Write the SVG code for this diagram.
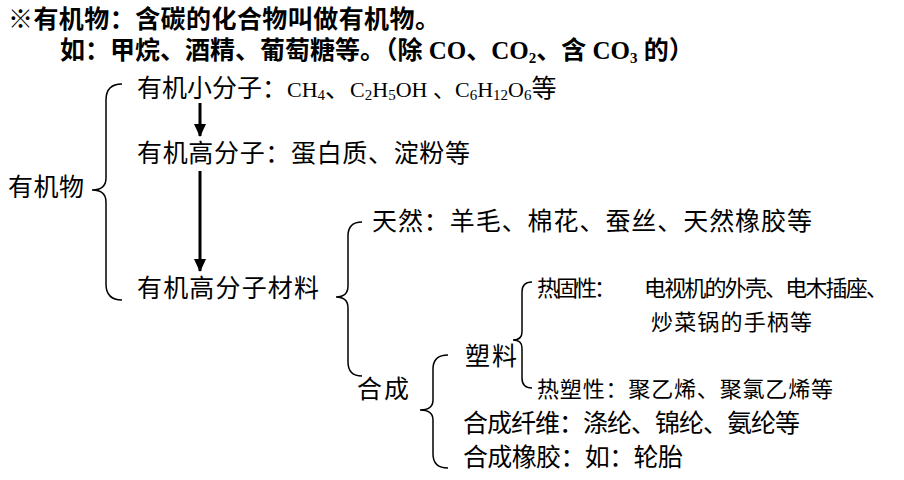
<svg xmlns="http://www.w3.org/2000/svg" width="904" height="480" viewBox="0 0 904 480">
<style>
text{font-family:"Liberation Serif","Noto Sans CJK SC",serif;fill:#000}
.b{font-weight:bold;font-size:25px}
.t{font-size:25px}
.s{font-size:22px}
.br{fill:none;stroke:#000;stroke-width:1.5}
</style>
<defs>
<marker id="a" markerWidth="14" markerHeight="14" refX="12" refY="7" orient="auto" markerUnits="userSpaceOnUse"><path d="M0,1 L13,7 L0,13 z" fill="#000"/></marker></defs>
<g id="title"><text class="b" x="8" y="28" textLength="432">※有机物：含碳的化合物叫做有机物。</text>
<text class="b" x="60" y="59">如：甲烷、酒精、葡萄糖等。（除 CO、CO<tspan font-size="15" dy="4">2</tspan><tspan dy="-4">、含 CO</tspan><tspan font-size="15" dy="4">3</tspan><tspan dy="-4"> 的）</tspan></text></g>
<g id="root"><text class="t" x="8" y="196" textLength="76">有机物</text></g>
<g id="small"><text class="t" x="137" y="97">有机小分子：<tspan font-size="22">CH</tspan><tspan font-size="15" dy="3">4</tspan><tspan dy="-3">、</tspan><tspan font-size="22">C</tspan><tspan font-size="15" dy="3">2</tspan><tspan font-size="22" dy="-3">H</tspan><tspan font-size="15" dy="3">5</tspan><tspan font-size="22" dy="-3">OH 、C</tspan><tspan font-size="15" dy="3">6</tspan><tspan font-size="22" dy="-3">H</tspan><tspan font-size="15" dy="3">12</tspan><tspan font-size="22" dy="-3">O</tspan><tspan font-size="15" dy="3">6</tspan><tspan dy="-3">等</tspan></text></g>
<g id="big"><text class="t" x="137" y="162" textLength="333">有机高分子：蛋白质、淀粉等</text></g>
<g id="mat"><text class="t" x="137" y="297" textLength="182">有机高分子材料</text></g>
<g id="natural"><text class="t" x="372" y="230" textLength="440">天然：羊毛、棉花、蚕丝、天然橡胶等</text></g>
<g id="synth"><text class="t" x="357" y="398" textLength="52">合成</text></g>
<g id="plastic"><text class="t" x="465" y="365" textLength="52">塑料</text></g>
<g id="thermoset"><text class="s" x="537" y="296" textLength="79">热固性：</text><text class="s" x="644" y="296" textLength="244">电视机的外壳、电木插座、</text><text class="s" x="651" y="330" textLength="161">炒菜锅的手柄等</text></g>
<g id="thermoplastic"><text class="s" x="537" y="397" textLength="296">热塑性：聚乙烯、聚氯乙烯等</text></g>
<g id="fiber"><text class="t" x="463" y="432" textLength="337">合成纤维：涤纶、锦纶、氨纶等</text></g>
<g id="rubber"><text class="t" x="463" y="466" textLength="220">合成橡胶：如：轮胎</text></g>
<g id="connectors">
<path class="br" d="M122,84 Q106,84 106,100 L106,178 Q106,190 92,190 Q106,190 106,202 L106,284 Q106,300 122,300"/>
<path class="br" d="M362,222 Q348,222 348,236 L348,286 Q348,297 336,297 Q348,297 348,308 L348,362 Q348,376 362,376"/>
<path class="br" d="M448,355 Q433,355 433,369 L433,400 Q433,410 420,410 Q433,410 433,420 L433,454 Q433,468 448,468"/>
<path class="br" d="M532,282 Q522,282 522,292 L522,332 Q522,340 513,340 Q522,340 522,348 L522,378 Q522,388 532,388"/>
<line x1="200" y1="103" x2="200" y2="136" stroke="#000" stroke-width="3" marker-end="url(#a)"/>
<line x1="200" y1="171" x2="200" y2="271" stroke="#000" stroke-width="3" marker-end="url(#a)"/>
</g>
</svg>
